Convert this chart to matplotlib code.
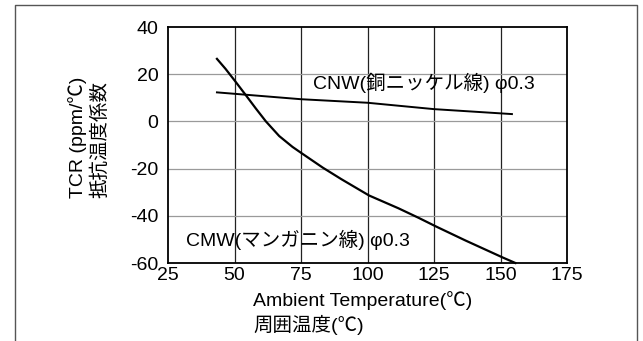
import matplotlib.pyplot as plt
from matplotlib.lines import Line2D

plt.rcParams['font.family'] = ['Liberation Sans', 'Noto Sans CJK JP', 'DejaVu Sans']
plt.rcParams['axes.unicode_minus'] = False

# CMW (manganin) curve
cmw_temp = [43.4, 46.6, 50, 54.2, 58, 61.8, 66.8, 71.8, 75, 83.2, 90.2,
            100.6, 111.6, 119.1, 125.9, 136.9, 151.1, 155.6]
cmw_tcr = [26.5, 22.3, 17.4, 11.2, 5.5, 0, -6.2, -10.8, -13.3, -19.6, -24.5,
           -31.4, -36.8, -40.8, -44.6, -50.5, -57.8, -60]

# CNW (copper nickel) line
cnw_temp = [43.4, 75, 100, 125, 154.3]
cnw_tcr = [12.3, 9.4, 7.9, 5.2, 3.1]

xticks = [25, 50, 75, 100, 125, 150, 175]
yticks = [-60, -40, -20, 0, 20, 40]

fig = plt.figure(figsize=(6.43, 3.41), dpi=100)
ax = fig.add_axes([168 / 643, 1 - 263 / 341, 399 / 643, 236 / 341])

ax.plot(cmw_temp, cmw_tcr, color='black', lw=1.6, clip_on=False,
        solid_joinstyle='round')
ax.plot(cnw_temp, cnw_tcr, color='black', lw=1.4, clip_on=False)

ax.set_xlim(25, 175)
ax.set_ylim(-60, 40)
ax.set_xticks(xticks)
ax.set_yticks(yticks)
ax.tick_params(length=0, labelsize=14)
ax.tick_params(axis='y', pad=7)
ax.tick_params(axis='x', pad=3)

for x in xticks[1:-1]:
    ax.axvline(x, color='#222222', lw=0.9, zorder=0)
for y in yticks[1:-1]:
    ax.axhline(y, color='#9a9a9a', lw=0.9, zorder=0)
for s in ax.spines.values():
    s.set_linewidth(1.3)
    s.set_color('black')

ax.text(79.4, 16.2, 'CNW(銅ニッケル線) φ0.3', fontsize=14, va='center', ha='left')
ax.text(31.8, -50.2, 'CMW(マンガニン線) φ0.3', fontsize=14, va='center', ha='left')

fig.text(253 / 643, 1 - 301 / 341, 'Ambient Temperature(℃)', fontsize=14,
         ha='left', va='center')
fig.text(253 / 643, 1 - 325 / 341, '周囲温度(℃)', fontsize=14,
         ha='left', va='center')

fig.text(78 / 643, 1 - 198 / 341, 'TCR (ppm/℃)', fontsize=14, rotation=90,
         ha='center', va='bottom')
fig.text(100 / 643, 1 - 198 / 341, '抵抗温度係数', fontsize=14, rotation=90,
         ha='center', va='bottom')

# outer frame of the scanned figure
x0, x1, yt = 15 / 643, 637 / 643, 1 - 5 / 341
fig.add_artist(Line2D([x0, x0, x1, x1], [0, yt, yt, 0], color='#555555', lw=1.0,
                      transform=fig.transFigure))

fig.savefig('out.png', dpi=100)
